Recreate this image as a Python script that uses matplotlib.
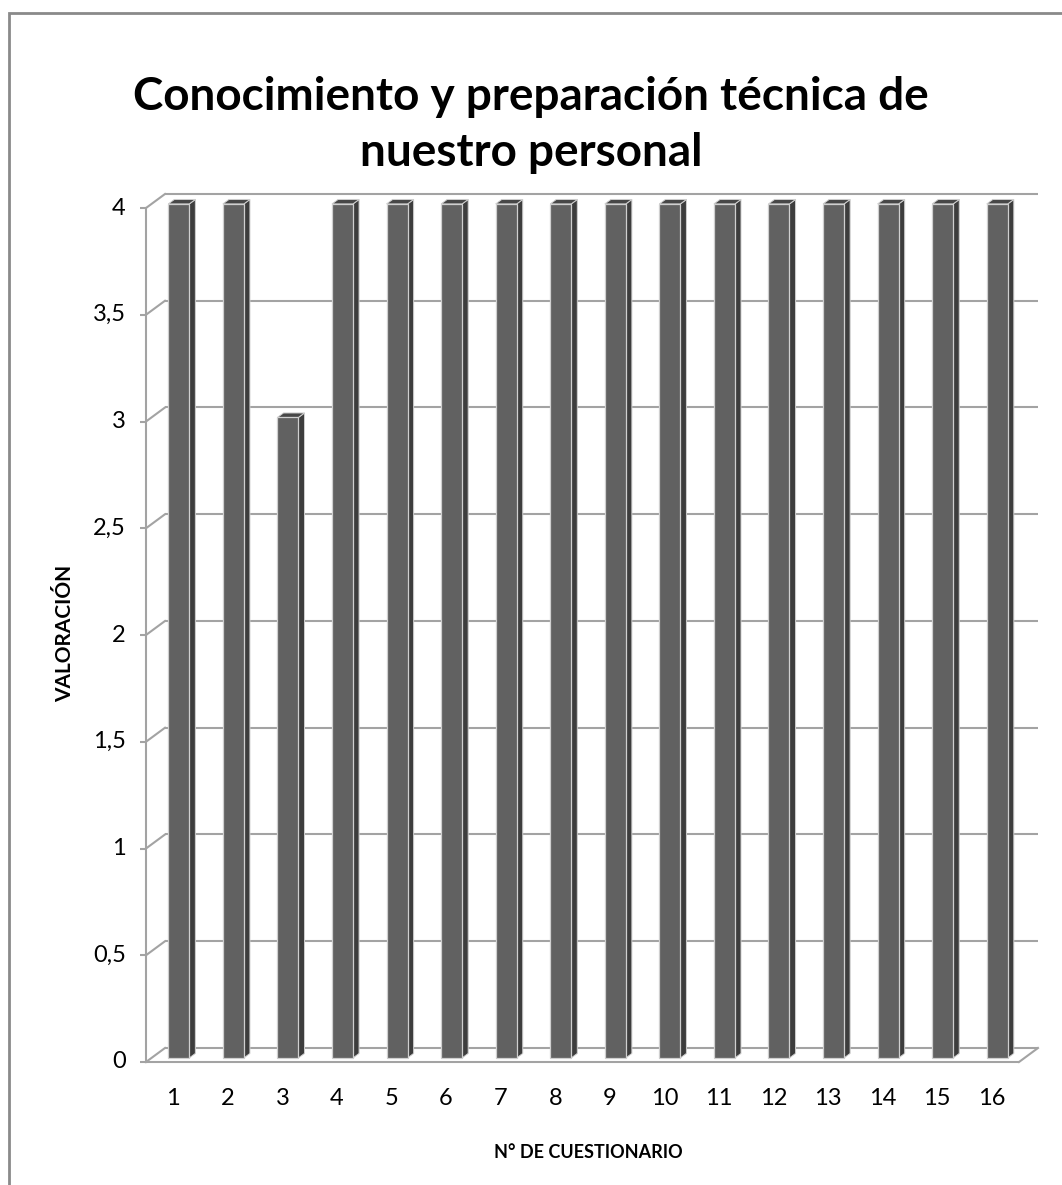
import matplotlib
matplotlib.use("Agg")
import matplotlib.pyplot as plt
from matplotlib.patches import Polygon, Rectangle

# Survey scores per questionnaire
questionnaires = [str(i) for i in range(1, 17)]
scores = [4, 4, 3, 4, 4, 4, 4, 4, 4, 4, 4, 4, 4, 4, 4, 4]
y_ticks = [0, 0.5, 1, 1.5, 2, 2.5, 3, 3.5, 4]
y_tick_labels = ["0", "0,5", "1", "1,5", "2", "2,5", "3", "3,5", "4"]

title = "Conocimiento y preparación técnica de\nnuestro personal"
y_label = "VALORACIÓN"
x_label = "N° DE CUESTIONARIO"

FONT = ["Lato", "DejaVu Sans"]
W, H = 1062, 1185
fig = plt.figure(figsize=(W / 100, H / 100), dpi=100)
fig.patch.set_facecolor("white")

# Chart-area frame
fig.add_artist(Rectangle((9 / W, -0.05), 1.2, 1 - 13 / H + 0.05,
                         transform=fig.transFigure, fill=False,
                         edgecolor="#8a8a8a", linewidth=2.0))

# Depth of the 3-D wall in data units
DX = 0.348   # categories
DY = 0.0656  # value units
n = len(scores)
x0, x1 = 0.5, n + 0.5
ymax = 4

left_px, right_px = 146, 1038
top_px, bottom_px = 194, 1062
ax = fig.add_axes([left_px / W, 1 - bottom_px / H,
                   (right_px - left_px) / W, (bottom_px - top_px) / H])
ax.set_xlim(x0, x1 + DX)
ax.set_ylim(0, ymax + DY)
ax.axis("off")

grid_c = "#a3a3a3"
glw = 1.5

# Back wall gridlines
for v, lab in zip(y_ticks, y_tick_labels):
    ax.plot([x0 + DX, x1 + DX], [v + DY, v + DY], color=grid_c, lw=glw,
            solid_capstyle="butt", zorder=1, clip_on=False)
    # diagonal from the front axis to the back wall
    ax.plot([x0, x0 + DX], [v, v + DY], color=grid_c, lw=glw, zorder=1,
            clip_on=False)
    # tick mark on the front axis
    ax.plot([x0 - 0.11, x0], [v, v], color=grid_c, lw=glw, zorder=1,
            clip_on=False, solid_capstyle="butt")
    ax.text(x0 - 0.37, v, lab, ha="right", va="center", fontsize=17,
            family=FONT, color="black")

# Front vertical axis and floor
ax.plot([x0, x0], [0, ymax], color=grid_c, lw=glw, zorder=1, clip_on=False)
ax.plot([x0, x1], [0, 0], color=grid_c, lw=glw, zorder=5, clip_on=False,
        solid_capstyle="butt")
ax.plot([x1, x1 + DX], [0, DY], color=grid_c, lw=glw, zorder=5,
        clip_on=False)

# 3-D columns
BW = 0.385   # face width (categories)
F0 = 0.29    # depth position of the front face
T = 0.32     # column depth fraction
front_c, side_c, top_c = "#616161", "#3d3d3d", "#474747"
edge_c = "#cfcfcf"
for i, v in enumerate(scores, start=1):
    xl = i - BW / 2 + F0 * DX
    xr = i + BW / 2 + F0 * DX
    yb = F0 * DY
    yt = v + F0 * DY
    ddx, ddy = T * DX, T * DY
    side = Polygon([(xr, yb), (xr + ddx, yb + ddy), (xr + ddx, yt + ddy),
                    (xr, yt)], closed=True, facecolor=side_c,
                   edgecolor=edge_c, lw=0.7, zorder=3, clip_on=False)
    top = Polygon([(xl, yt), (xr, yt), (xr + ddx, yt + ddy),
                   (xl + ddx, yt + ddy)], closed=True, facecolor=top_c,
                  edgecolor=edge_c, lw=0.7, zorder=3, clip_on=False)
    front = Polygon([(xl, yb), (xr, yb), (xr, yt), (xl, yt)], closed=True,
                    facecolor=front_c, edgecolor=edge_c, lw=0.9, zorder=4,
                    clip_on=False)
    for p in (side, top, front):
        ax.add_patch(p)
    ax.text(i, -0.17, questionnaires[i - 1], ha="center", va="center",
            fontsize=17, family=FONT, color="black")

fig.text(531 / W, 1 - 125 / H, title, ha="center", va="center",
         fontsize=33, fontweight="bold", family=FONT, linespacing=1.42)
fig.text(65 / W, 1 - 633 / H, y_label, ha="center", va="center",
         rotation=90, fontsize=15, fontweight="bold", family=FONT)
fig.text(588 / W, 1 - 1153 / H, x_label, ha="center", va="center",
         fontsize=13, fontweight="bold", family=FONT)

fig.savefig("out.png", dpi=100, facecolor="white")
